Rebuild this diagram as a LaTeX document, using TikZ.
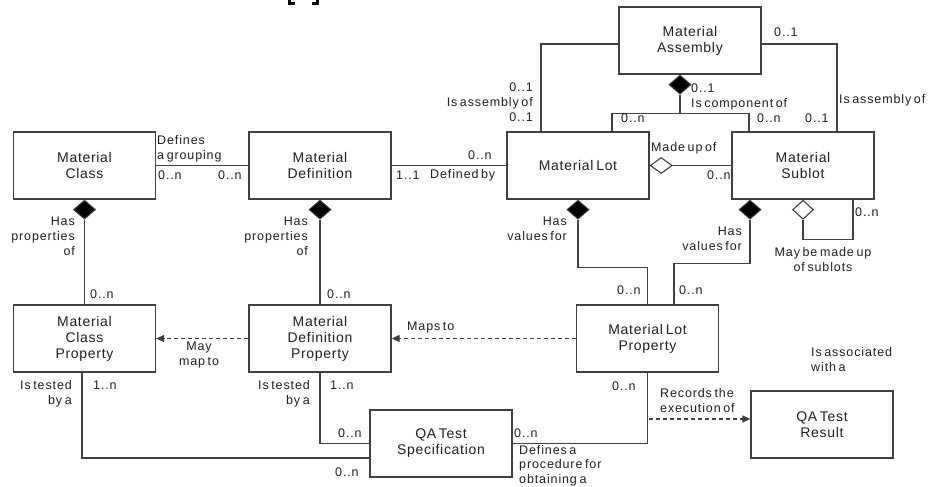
\documentclass[tikz,border=0pt]{standalone}
\usepackage{fontspec}
\setmainfont{Liberation Sans}
\newfontfamily\boxfont{Liberation Sans}[LetterSpace=5,WordSpace=0.6]
\newfontfamily\labfont{Liberation Sans}[LetterSpace=7,WordSpace=0.6]
\usetikzlibrary{shapes.geometric,arrows.meta}
\definecolor{linec}{HTML}{404040}
\definecolor{textc}{HTML}{1F1F1F}
\tikzset{
  box/.style={draw=linec, line width=1.3pt, minimum width=142pt, minimum height=67pt,
    inner sep=0pt, align=center, text=textc, font=\boxfont\fontsize{14}{16}\selectfont},
  lab/.style={inner sep=0pt, text=textc, font=\labfont\fontsize{12.5}{15}\selectfont},
  conn/.style={draw=linec, line width=1.3pt},
  dashline/.style={conn, dash pattern=on 4pt off 3pt, -{Triangle[length=8pt,width=7pt]}},
  fdia/.style={diamond, draw=linec, fill=black, line width=1pt, inner sep=0pt,
    minimum width=22pt, minimum height=19pt},
  odia/.style={diamond, draw=linec, fill=white, line width=1.1pt, inner sep=0pt,
    minimum width=21pt, minimum height=19pt},
}
\begin{document}
\begin{tikzpicture}[x=1pt,y=-1pt]
\useasboundingbox (0,0) rectangle (934,487);
\fill[white] (0,0) rectangle (934,487);

% clipped bracket feet at the top edge
\draw[line width=2.6pt, line cap=butt] (289.5,0) -- (289.5,3.7) -- (295,3.7);
\draw[line width=2.6pt, line cap=butt] (317.5,0) -- (317.5,3.7) -- (312,3.7);

% classes
\node[box] (cls)  at (84.5,165.5) {Material\\Class};
\node[box] (def)  at (320,165.5)  {Material\\Definition};
\node[box] (lot)  at (578,165.5)  {Material Lot};
\node[box] (sub)  at (803,165.5)  {Material\\Sublot};
\node[box] (asm)  at (690,40.5)   {Material\\Assembly};
\node[box] (clsp) at (84.5,338.5) {Material\\Class\\Property};
\node[box] (defp) at (320,338.5)  {Material\\Definition\\Property};
\node[box] (lotp) at (647.5,338.5){Material Lot\\Property};
\node[box] (qas)  at (441,443.5)  {QA Test\\Specification};
\node[box] (qar)  at (822,424.5)  {QA Test\\Result};

% aggregation / composition diamonds
\node[fdia, anchor=north] (dcls) at (cls.south) {};
\node[fdia, anchor=north] (ddef) at (def.south) {};
\node[fdia, anchor=north] (dlot) at (lot.south) {};
\node[fdia, anchor=north] (dsub) at ([xshift=-53pt]sub.south) {};
\node[fdia, anchor=north] (dasm) at ([xshift=-10pt]asm.south) {};
\node[odia, anchor=north] (dself) at (sub.south) {};
\node[odia, anchor=west, minimum width=22pt, minimum height=16pt] (dmade) at (lot.east) {};

% associations
\draw[conn] (cls.east) -- (def.west);
\draw[conn] (def.east) -- (lot.west);
\draw[conn] ([xshift=-37pt]lot.north) |- ([yshift=-3.5pt]asm.west);
\draw[conn] ([yshift=-3.5pt]asm.east) -| ([xshift=34pt]sub.north);
\coordinate (junc) at ([yshift=-19pt]dasm.south);
\draw[conn] (dasm.south) -- (junc);
\draw[conn] ([xshift=34pt]lot.north) |- (junc) -| ([xshift=-54pt]sub.north);
\draw[conn] (dmade.east) -- (sub.west);
\draw[conn] (dself.south) -- ++(0,20) -| ([xshift=50pt]sub.south);
\draw[conn] (dlot.south) -- ++(0,48) -| (lotp.north);
\draw[conn] (dsub.south) -- ++(0,44) -| ([xshift=26.5pt]lotp.north);
\draw[conn] (dcls.south) -- (clsp.north);
\draw[conn] (ddef.south) -- (defp.north);
\draw[dashline] (defp.west) -- (clsp.east);
\draw[dashline] (lotp.west) -- (defp.east);
\draw[conn] ([xshift=-2.5pt]clsp.south) |- ([yshift=-14.5pt]qas.west);
\draw[conn] (defp.south) |- (qas.west);
\draw[conn] (qas.east) -| (lotp.south);
\coordinate (rt) at ([yshift=5.5pt]qar.west);
\coordinate (rs) at (lotp.south |- rt);
\draw[dashline] ([xshift=1pt]rs) -- (rt);

% role names and multiplicities
\node[lab, anchor=north west, align=left] (l1) at (157,135) {Defines\\a grouping};
\node[lab, anchor=west] (l2) at (158,175) {0..n};
\node[lab, anchor=west] (l3) at (218,175) {0..n};
\node[lab, anchor=west] (l4) at (468,155) {0..n};
\node[lab, anchor=west] (l5) at (396,175) {1..1};
\node[lab, anchor=west] (l6) at (430,175) {Defined by};
\node[lab, anchor=north east, align=right] (l7) at (533,83) {0..1\\Is assembly of\\0..1};
\node[lab, anchor=west] (l8) at (774,32) {0..1};
\node[lab, anchor=north west, align=left] (l9) at (691,84) {0..1\\Is component of};
\node[lab, anchor=west] (l10) at (839,100) {Is assembly of};
\node[lab, anchor=west] (l11) at (621,118) {0..n};
\node[lab, anchor=west] (l12) at (757,118) {0..n};
\node[lab, anchor=west] (l13) at (805,118) {0..1};
\node[lab, anchor=west] (l14) at (651,148) {Made up of};
\node[lab, anchor=west] (l15) at (707,175) {0..n};
\node[lab, anchor=north east, align=right] (l16) at (75,217) {Has\\properties\\of};
\node[lab, anchor=north east, align=right] (l17) at (308,217) {Has\\properties\\of};
\node[lab, anchor=west] (l18) at (90,294) {0..n};
\node[lab, anchor=west] (l19) at (327,294) {0..n};
\node[lab, anchor=north east, align=right] (l20) at (567,217) {Has\\values for};
\node[lab, anchor=north east, align=right] (l21) at (742,227) {Has\\values for};
\node[lab, anchor=west] (l22) at (855,212) {0..n};
\node[lab, anchor=north, align=center] (l23) at (823,247) {May be made up\\of sublots};
\node[lab, anchor=west] (l24) at (617,290) {0..n};
\node[lab, anchor=west] (l25) at (679,290) {0..n};
\node[lab, anchor=west] (l26) at (407,327) {Maps to};
\node[lab, anchor=north, align=center] (l27) at (199,342) {May\\map to};
\node[lab, anchor=north east, align=right] (l28) at (72,380) {Is tested\\by a};
\node[lab, anchor=north east, align=right] (l29) at (310,380) {Is tested\\by a};
\node[lab, anchor=west] (l30) at (93,385) {1..n};
\node[lab, anchor=west] (l31) at (330,385) {1..n};
\node[lab, anchor=west] (l32) at (338,433) {0..n};
\node[lab, anchor=west] (l33) at (335,472) {0..n};
\node[lab, anchor=west] (l34) at (514,433) {0..n};
\node[lab, anchor=north west, align=left, font=\labfont\fontsize{12.5}{14.5}\selectfont] (l35) at (519,445) {Defines a\\procedure for\\obtaining a};
\node[lab, anchor=west] (l36) at (612,386) {0..n};
\node[lab, anchor=north west, align=left] (l37) at (660,388) {Records the\\execution of};
\node[lab, anchor=north west, align=left] (l38) at (811,347) {Is associated\\with a};
\end{tikzpicture}
\end{document}
